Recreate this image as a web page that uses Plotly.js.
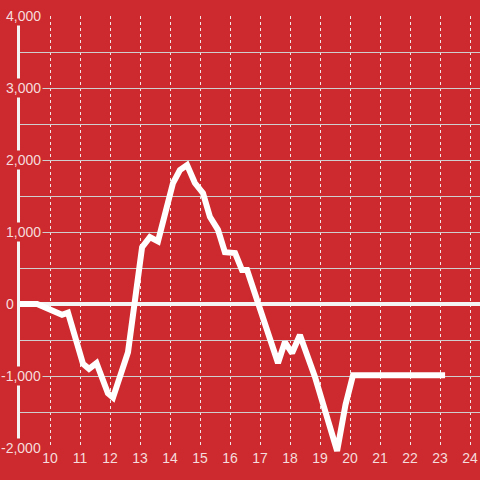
<!DOCTYPE html>
<html>
<head>
<meta charset="utf-8">
<script src="https://cdn.plot.ly/plotly-3.0.1.min.js"></script>
<style>
  html, body { margin: 0; padding: 0; background: #cc2a2e; }
  #chart { width: 480px; height: 480px; }
</style>
</head>
<body>
<div id="chart"></div>
<script>
// Series (x = hour, y = value)
const hours = [9, 9.57, 10.4, 10.6, 11.1, 11.3, 11.55, 11.93, 12.1, 12.6, 13.07, 13.33, 13.6, 14.1, 14.33, 14.57, 14.83, 15.1, 15.33, 15.6, 15.83, 16.17, 16.4, 16.57, 17.6, 17.83, 18.07, 18.33, 18.83, 19.57, 19.85, 20.1, 23.17];
const values = [0, 0, -150, -120, -830, -900, -820, -1240, -1300, -670, 790, 930, 870, 1680, 1861, 1930, 1680, 1540, 1210, 1030, 720, 708, 472, 472, -820, -528, -681, -431, -1010, -2040, -1400, -990, -990];

// Tick labels
const xTickVals = [10, 11, 12, 13, 14, 15, 16, 17, 18, 19, 20, 21, 22, 23, 24];
const xTickText = ['10', '11', '12', '13', '14', '15', '16', '17', '18', '19', '20', '21', '22', '23', '24'];
const yTickVals = [4000, 3000, 2000, 1000, 0, -1000, -2000];
const yTickText = ['4,000', '3,000', '2,000', '1,000', '0', '-1,000', '-2,000'];

const BG = '#cc2a2e';
const TXT = '#f6dcdc';
const FONT = 'Liberation Sans, Arial, sans-serif';

const annotations = yTickVals.map((v, i) => ({
  xref: 'paper', x: 0, yref: 'y', y: v,
  xanchor: 'right', yanchor: 'middle',
  xshift: v === 0 ? -4 : 23,
  text: yTickText[i],
  showarrow: false,
  bgcolor: BG,
  borderpad: 1,
  font: { family: FONT, size: 14, color: TXT }
}));

const trace = {
  x: hours, y: values,
  type: 'scatter', mode: 'lines',
  line: { color: '#ffffff', width: 6 },
  cliponaxis: false,
  hoverinfo: 'skip'
};

const layout = {
  width: 480, height: 480,
  paper_bgcolor: BG, plot_bgcolor: BG,
  margin: { l: 20, r: 0, t: 16, b: 32 },
  showlegend: false,
  xaxis: {
    range: [9, 24.3333],
    tickvals: xTickVals, ticktext: xTickText,
    showgrid: true, gridcolor: '#f3e6e6', gridwidth: 1, griddash: 'dot',
    zeroline: false, showline: false, ticks: '',
    tickfont: { family: FONT, size: 14, color: TXT }
  },
  yaxis: {
    range: [-2000, 4000],
    tick0: 0, dtick: 500,
    showticklabels: false,
    showgrid: true, gridcolor: '#cfcfcf', gridwidth: 1,
    zeroline: true, zerolinecolor: '#f4f4f4', zerolinewidth: 4,
    showline: true, linecolor: '#f4f4f4', linewidth: 3,
    ticks: ''
  },
  annotations: annotations
};

function unclipLine() {
  // let the line run slightly past the plot frame, as in the reference
  document.querySelectorAll('#chart [clip-path]').forEach(function (el) {
    el.removeAttribute('clip-path');
  });
}

Plotly.newPlot('chart', [trace], layout, { staticPlot: true, displayModeBar: false }).then(function () {
  unclipLine();
  setTimeout(unclipLine, 0);
  setTimeout(unclipLine, 50);
});
</script>
</body>
</html>
